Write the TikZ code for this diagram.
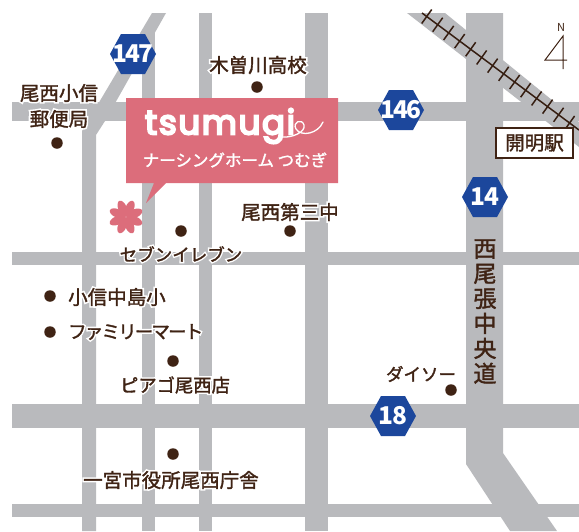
\documentclass[tikz,border=0pt]{standalone}
\usepackage{fontspec}
\usetikzlibrary{calc}
\setmainfont{Noto Sans CJK JP}
\newfontfamily\haloface[FakeBold=18]{Noto Sans CJK JP}
\newfontfamily\labelface[FakeBold=1.6]{Noto Sans CJK JP}
\newfontfamily\logoface[FakeBold=6,LetterSpace=5]{Poppins}
\newcommand{\halotext}[1]{\leavevmode\rlap{\haloface\color{white}#1}#1}
\newcommand{\tightkana}[1]{\leavevmode\rlap{\haloface\addfontfeature{LetterSpace=-10}\color{white}#1}{\addfontfeature{LetterSpace=-10}#1}}
\definecolor{roadgray}{HTML}{B9BABD}
\definecolor{inkbrown}{HTML}{3F2314}
\definecolor{rosepink}{HTML}{DC6D7B}
\definecolor{routeblue}{HTML}{1C479C}
\tikzset{
  x=1pt,y=-1pt,
  road/.style={fill=roadgray,draw=none},
  hexroute/.style={fill=routeblue,draw=none},
  routenum/.style={text=white,font=\fontsize{24.5}{25}\selectfont\bfseries\addfontfeature{LetterSpace=-7},inner sep=0pt},
  spot/.style={circle,fill=inkbrown,minimum size=11.5pt,inner sep=0pt},
  place/.style={text=inkbrown,font=\labelface\fontsize{19.5}{22}\selectfont,inner sep=0pt,align=center},
  kana/.style={place,font=\labelface\fontsize{17.5}{22}\selectfont},
  tie/.style={draw=inkbrown!85!black,line width=1.5pt},
}
\newcommand{\hexat}[3]{%
  \fill[hexroute] (#1-23,#2) -- (#1-12,#2-20) -- (#1+12,#2-20) -- (#1+23,#2) -- (#1+12,#2+20) -- (#1-12,#2+20) -- cycle;
  \node[routenum] (r#3) at (#1,#2) {#3};}
\begin{document}
\begin{tikzpicture}
\useasboundingbox (0,0) rectangle (579,531);
\fill[white] (0,0) rectangle (579,531);
% roads
\fill[road] (12,102) rectangle (579,121);
\fill[road] (12,252) rectangle (579,265);
\fill[road] (12,404) rectangle (579,428);
\fill[road] (12,504) rectangle (579,517);
\fill[road] (142,30) rectangle (155,531);
\fill[road] (199,13) rectangle (212,531);
\fill[road] (305,13) rectangle (328,531);
\fill[road] (152,13) -- (166,13) -- (105,121) -- (96,135) -- (96,531) -- (82,531) -- (82,131) -- (88,121) -- cycle;
\fill[road] (466,13) -- (503,13) -- (503,453) -- (557,531) -- (510,531) -- (466,464) -- cycle;
\fill[road] (407,13) -- (445,13) -- (579,122) -- (579,147) -- cycle;
% rail
\coordinate (railA) at (422,13);
\coordinate (railB) at (579,130);
\draw[tie] (railA) -- (railB);
\foreach \t in {0.03,0.10,...,1.0}
  \draw[tie] ($(railA)!\t!(railB)+(-5,7)$) -- ($(railA)!\t!(railB)+(5,-7)$);
% shop callout
\fill[rosepink] (126,98) -- (338,98) -- (338,183) -- (166,183) -- (146,203) -- (154,183) -- (126,183) -- cycle;
\node[inner sep=0pt,text=white,font=\logoface\fontsize{34}{36}\selectfont] (logo) at (220,126) {tsumugi};
\draw[white,line width=1.3pt,line cap=round] (282,137) .. controls (292,138) and (306,132) .. (304,125) .. controls (302,118) and (292,122) .. (296,129) .. controls (301,137) and (318,134) .. (323,122);
\node[inner sep=0pt,text=white,font=\labelface\fontsize{16.5}{18}\selectfont] (subtitle) at (235,160) {ナーシングホーム つむぎ};
% flower
\foreach \a in {0,45,...,315}
  \fill[rosepink,rotate around={\a+22:(126,217)}] (126,208) ellipse (4.3 and 8.5);
% spots and labels
\node[spot] (d1) at (57,143) {};
\node[spot] (d2) at (257,87) {};
\node[spot] (d3) at (181,231) {};
\node[spot] (d4) at (290,231) {};
\node[spot] (d5) at (50,296) {};
\node[spot] (d6) at (50,332) {};
\node[spot] (d7) at (173,361) {};
\node[spot] (d8) at (173,454) {};
\node[spot] (d9) at (451,390) {};
\node[place] (l1a) at (59,93) {\halotext{尾西小信}};
\node[place] (l1b) at (59,119) {\halotext{郵便局}};
\node[place] (l2) at (258,65) {\halotext{木曽川高校}};
\node[kana] (l3) at (181,254) {\halotext{セブンイレブン}};
\node[place] (l4) at (290,212) {\halotext{尾西第三中}};
\node[place,anchor=west] (l5) at (68,297) {\halotext{小信中島小}};
\node[kana,font=\labelface\fontsize{18.5}{22}\selectfont,anchor=west] (l6) at (68,332) {\tightkana{ファミリーマート}};
\node[kana,font=\labelface\fontsize{18.3}{22}\selectfont] (l7) at (175,385) {\halotext{ピアゴ尾西店}};
\node[place] (l8) at (171,480) {\halotext{一宮市役所尾西庁舎}};
\node[kana] (l9) at (421,374) {ダイソー};
\node[draw=inkbrown,line width=1.5pt,fill=white,text=inkbrown,minimum width=77pt,minimum height=30pt,inner sep=0pt,font=\labelface\fontsize{19.5}{22}\selectfont] (station) at (534.5,143) {開明駅};
\node[text=inkbrown,inner sep=0pt,align=center,font=\labelface\fontsize{23}{25}\selectfont] (street) at (485,311.5) {西\\尾\\張\\中\\央\\道};
% route shields
\hexat{133}{54}{147}
\hexat{401}{110}{146}
\hexat{485}{197}{14}
\hexat{393}{416}{18}
% north mark
\node[text=inkbrown,inner sep=0pt,font=\fontsize{11}{11}\selectfont] (north) at (561,27) {N};
\draw[inkbrown,line width=1pt] (563,69) -- (563,36) -- (545,60) -- (567,60);
\end{tikzpicture}
\end{document}
